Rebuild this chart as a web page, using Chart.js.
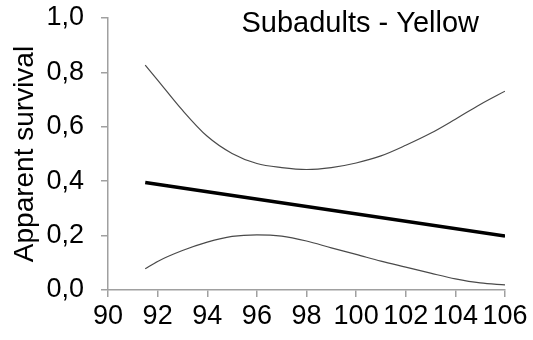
<!DOCTYPE html>
<html>
<head>
<meta charset="utf-8">
<script src="https://cdn.jsdelivr.net/npm/chart.js@4/dist/chart.umd.min.js"></script>
<style>
  html, body { margin: 0; padding: 0; background: #fff; }
  #wrap { width: 533px; height: 340px; }
</style>
</head>
<body>
<div id="wrap"><canvas id="survivalChart"></canvas></div>
<script>
// values
const xYears = [91.5, 92, 93, 94, 95, 96, 97, 98, 99, 100, 101, 102, 103, 104, 105, 106];
const upperCI = [0.827, 0.772, 0.661, 0.565, 0.502, 0.465, 0.450, 0.443, 0.450, 0.467, 0.493, 0.532, 0.576, 0.628, 0.682, 0.731];
const lowerCI = [0.078, 0.105, 0.145, 0.176, 0.197, 0.203, 0.198, 0.180, 0.155, 0.131, 0.106, 0.084, 0.062, 0.041, 0.026, 0.019];
const meanX = [91.5, 106];
const meanY = [0.395, 0.198];
const xTicks = [90, 92, 94, 96, 98, 100, 102, 104, 106];
const yTicks = [0, 0.2, 0.4, 0.6, 0.8, 1.0];
const chartTitle = 'Subadults - Yellow';
const yTitle = 'Apparent survival';

const FONT = 'Arial, "Liberation Sans", sans-serif';
const AXIS_GREY = '#a0a0a0';

function toPoints(xs, ys) {
  return xs.map((x, i) => ({ x: x, y: ys[i] }));
}

// title sits inside the plot area, top right
const innerTitle = {
  id: 'innerTitle',
  afterDraw(chart) {
    const { ctx, chartArea } = chart;
    ctx.save();
    ctx.font = '29px ' + FONT;
    ctx.fillStyle = '#000';
    ctx.textAlign = 'right';
    ctx.textBaseline = 'alphabetic';
    ctx.fillText(chartTitle, chartArea.right - 26, 32);
    ctx.restore();
  },
};

const ctx = document.getElementById('survivalChart').getContext('2d');
new Chart(ctx, {
  type: 'line',
  data: {
    datasets: [
      {
        label: 'Upper',
        data: toPoints(xYears, upperCI),
        borderColor: '#4a4a4a',
        borderWidth: 1.2,
        pointRadius: 0,
        cubicInterpolationMode: 'monotone',
        fill: false,
      },
      {
        label: 'Lower',
        data: toPoints(xYears, lowerCI),
        borderColor: '#4a4a4a',
        borderWidth: 1.2,
        pointRadius: 0,
        cubicInterpolationMode: 'monotone',
        fill: false,
      },
      {
        label: 'Mean',
        data: toPoints(meanX, meanY),
        borderColor: '#000',
        borderWidth: 3.5,
        pointRadius: 0,
        fill: false,
      },
    ],
  },
  options: {
    responsive: true,
    maintainAspectRatio: false,
    animation: false,
    layout: { padding: { top: 18, right: 28, left: 0, bottom: 0 } },
    plugins: {
      legend: { display: false },
      tooltip: { enabled: false },
    },
    scales: {
      x: {
        type: 'linear',
        min: xTicks[0],
        max: xTicks[xTicks.length - 1],
        afterBuildTicks: (scale) => { scale.ticks = xTicks.map((v) => ({ value: v })); },
        afterFit: (scale) => { scale.height = 50; },
        grid: { drawOnChartArea: false, color: AXIS_GREY, tickLength: 7, lineWidth: 1.5 },
        border: { color: AXIS_GREY, width: 1.5 },
        ticks: {
          color: '#000',
          font: { family: FONT, size: 27 },
          padding: 3,
          maxRotation: 0,
          autoSkip: false,
        },
      },
      y: {
        min: 0,
        max: 1,
        afterBuildTicks: (scale) => { scale.ticks = yTicks.map((v) => ({ value: v })); },
        afterFit: (scale) => {
          scale.width = 108;
          scale.paddingTop = 0;
          scale.paddingBottom = 0;
        },
        grid: { drawOnChartArea: false, color: AXIS_GREY, tickLength: 7, lineWidth: 1.5 },
        border: { color: AXIS_GREY, width: 1.5 },
        ticks: {
          color: '#000',
          font: { family: FONT, size: 27 },
          padding: 17,
          callback: (v) => v.toFixed(1).replace('.', ','),
        },
        title: {
          display: true,
          text: yTitle,
          color: '#000',
          font: { family: FONT, size: 28 },
          padding: { top: 8, bottom: 0 },
        },
      },
    },
  },
  plugins: [innerTitle],
});
</script>
</body>
</html>
